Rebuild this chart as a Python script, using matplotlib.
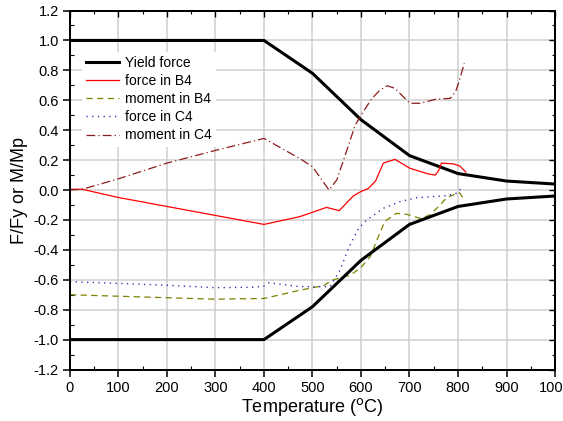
import numpy as np
import matplotlib
matplotlib.use("Agg")
import matplotlib.pyplot as plt
from matplotlib.ticker import MultipleLocator

plt.rcParams['font.family'] = ['Liberation Sans', 'DejaVu Sans']

# yield force envelope (upper branch, lower is mirrored)
t_yield = [0, 100, 200, 300, 400, 500, 600, 700, 800, 900, 1000]
yield_force = [1.0, 1.0, 1.0, 1.0, 1.0, 0.78, 0.47, 0.23, 0.11, 0.06, 0.04]

# force in B4
t_fb4 = [0, 25, 100, 200, 300, 400, 474, 529, 555, 584, 600, 615, 630, 646,
         670, 701, 739, 753, 760, 766, 790, 804, 816]
force_b4 = [0.005, 0.005, -0.05, -0.11, -0.17, -0.23, -0.178, -0.116, -0.138,
            -0.04, -0.01, 0.01, 0.06, 0.18, 0.205, 0.145, 0.107, 0.100,
            0.13, 0.18, 0.175, 0.16, 0.12]

# moment in B4
t_mb4 = [0, 100, 200, 300, 400, 474, 522, 543, 577, 598, 619, 636, 649, 673,
         694, 722, 742, 763, 777, 799, 803, 814]
moment_b4 = [-0.70, -0.71, -0.72, -0.73, -0.725, -0.67, -0.64, -0.60, -0.57,
             -0.525, -0.446, -0.31, -0.21, -0.156, -0.162, -0.19, -0.167,
             -0.10, -0.05, -0.022, -0.018, -0.07]

# force in C4
t_fc4 = [0, 100, 200, 300, 380, 400, 410, 474, 536, 557, 574, 595, 612, 646,
         680, 715, 722, 777, 799, 806]
force_c4 = [-0.613, -0.624, -0.637, -0.653, -0.65, -0.642, -0.62, -0.646,
            -0.646, -0.535, -0.39, -0.256, -0.20, -0.122, -0.078, -0.051,
            -0.05, -0.038, -0.02, 0.01]

# moment in C4
t_mc4 = [0, 25, 100, 200, 300, 400, 474, 500, 534, 550, 571, 588, 602, 622,
         639, 654, 670, 687, 701, 722, 753, 784, 795, 803, 813]
moment_c4 = [0.0, 0.005, 0.075, 0.18, 0.265, 0.345, 0.21, 0.156, 0.0, 0.067,
             0.267, 0.434, 0.51, 0.61, 0.668, 0.697, 0.68, 0.624, 0.58, 0.58,
             0.606, 0.613, 0.657, 0.735, 0.847]

fig = plt.figure(figsize=(5.63, 4.21), dpi=100)
ax = fig.add_axes([0.1243, 0.1223, 0.8615, 0.8527])

ax.plot(t_yield, yield_force, color='black', lw=2.2, label='Yield force')
ax.plot(t_fb4, force_b4, color='red', lw=0.9, label='force in B4')
ax.plot(t_mb4, moment_b4, color='#808000', lw=0.9, dashes=(5, 3.5),
        label='moment in B4')
ax.plot(t_fc4, force_c4, color='#2a2ab0', lw=1.0, dashes=(0.9, 3.2),
        label='force in C4')
ax.plot(t_mc4, moment_c4, color='#8b1a1a', lw=0.9, dashes=(7, 2.5, 1, 2.5),
        label='moment in C4')
ax.plot(t_yield, -np.array(yield_force), color='black', lw=2.2)

ax.set_xlim(0, 1000)
ax.set_ylim(-1.2, 1.2)
ax.xaxis.set_major_locator(MultipleLocator(100))
ax.xaxis.set_minor_locator(MultipleLocator(50))
ax.yaxis.set_major_locator(MultipleLocator(0.2))
ax.yaxis.set_minor_locator(MultipleLocator(0.1))
ax.yaxis.set_major_formatter(plt.FuncFormatter(lambda v, p: '%.1f' % v))

ax.grid(True, which='major', color='#cfcfcf', lw=1.1)
ax.set_axisbelow(True)

for s in ax.spines.values():
    s.set_linewidth(1.3)

ax.tick_params(which='major', direction='out', length=5, width=1.1,
               labelsize=10.5, pad=3)
ax.tick_params(which='minor', direction='in', length=3, width=0.8)

# top and right sides: inward ticks only, no labels
axr = ax.twinx()
axr.set_ylim(ax.get_ylim())
axr.yaxis.set_major_locator(MultipleLocator(0.2))
axr.yaxis.set_minor_locator(MultipleLocator(0.1))
axr.tick_params(which='major', direction='in', length=4, width=1.0,
                labelright=False)
axr.tick_params(which='minor', direction='in', length=2.5, width=0.8)
axt = ax.twiny()
axt.set_xlim(ax.get_xlim())
axt.xaxis.set_major_locator(MultipleLocator(100))
axt.xaxis.set_minor_locator(MultipleLocator(50))
axt.tick_params(which='major', direction='in', length=4, width=1.0,
                labeltop=False)
axt.tick_params(which='minor', direction='in', length=2.5, width=0.8)
for a in (axr, axt):
    for s in a.spines.values():
        s.set_linewidth(1.3)

ax.set_xlabel('Temperature ($^{\\rm o}$C)', fontsize=13, labelpad=1)
ax.set_ylabel('F/Fy or M/Mp', fontsize=13, labelpad=4)

leg = ax.legend(loc='upper left', bbox_to_anchor=(0.01, 0.905), fontsize=10,
                frameon=True, fancybox=False, framealpha=1, edgecolor='none',
                handlelength=2.4, handletextpad=0.4, labelspacing=0.3,
                borderpad=0.3)

fig.savefig('out.png', dpi=100)
